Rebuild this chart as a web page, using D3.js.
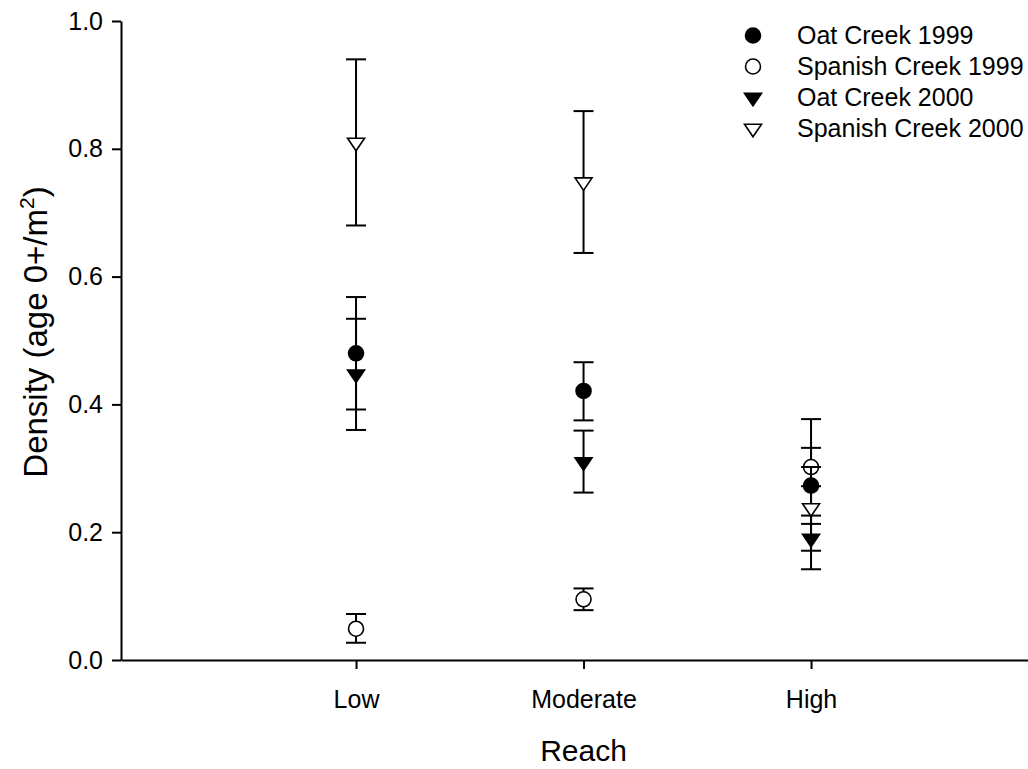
<!DOCTYPE html>
<html>
<head>
<meta charset="utf-8">
<script src="https://cdn.jsdelivr.net/npm/d3@7"></script>
<style>
  body { margin: 0; background: #fff; }
  text { font-family: "Liberation Sans", Arial, sans-serif; fill: #000; }
</style>
</head>
<body>
<div id="chart"></div>
<script>
// data
var reaches = ["Low", "Moderate", "High"];
var yTicks = [0, 0.2, 0.4, 0.6, 0.8, 1.0];

var oat1999 = [0.480, 0.421, 0.273];
var oat1999Lo = [0.392, 0.375, 0.171];
var oat1999Hi = [0.568, 0.466, 0.377];

var spanish1999 = [0.049, 0.095, 0.302];
var spanish1999Lo = [0.027, 0.078, 0.272];
var spanish1999Hi = [0.072, 0.112, 0.332];

var oat2000 = [0.447, 0.310, 0.190];
var oat2000Lo = [0.360, 0.262, 0.142];
var oat2000Hi = [0.534, 0.359, 0.226];

var spanish2000 = [0.810, 0.748, 0.238];
var spanish2000Lo = [0.680, 0.637, 0.213];
var spanish2000Hi = [0.940, 0.859, 0.302];

var seriesNames = ["Oat Creek 1999", "Spanish Creek 1999", "Oat Creek 2000", "Spanish Creek 2000"];

var series = [
  {name: seriesNames[0], vals: oat1999, lo: oat1999Lo, hi: oat1999Hi, shape: "circle", fill: "#000"},
  {name: seriesNames[1], vals: spanish1999, lo: spanish1999Lo, hi: spanish1999Hi, shape: "circle", fill: "#fff"},
  {name: seriesNames[2], vals: oat2000, lo: oat2000Lo, hi: oat2000Hi, shape: "tri", fill: "#000"},
  {name: seriesNames[3], vals: spanish2000, lo: spanish2000Lo, hi: spanish2000Hi, shape: "tri", fill: "#fff"}
];

var svgWidth = 1028;
var svgHeight = 769;

var svg = d3.select("#chart")
            .append("svg")
            .attr("width", svgWidth)
            .attr("height", svgHeight);

var xScale = d3.scalePoint()
               .domain(reaches)
               .range([121, 1028])
               .padding(0.9934)
               .align(0.52);

var yScale = d3.scaleLinear()
               .domain([0, 1])
               .range([660, 21]);

var xAxis = d3.axisBottom(xScale).tickSize(9).tickSizeOuter(0).tickPadding(21);
var yAxis = d3.axisLeft(yScale).tickValues(yTicks).tickFormat(d3.format(".1f"))
              .tickSize(9).tickSizeOuter(0).tickPadding(9);

var gx = svg.append("g")
   .attr("transform", "translate(0,660)")
   .call(xAxis);
var gy = svg.append("g")
   .attr("transform", "translate(121,0)")
   .call(yAxis);

[gx, gy].forEach(function(g){
  g.attr("font-size", null).attr("font-family", null);
  g.selectAll("path, line").attr("stroke", "#000").attr("stroke-width", 2);
  g.selectAll("text").style("font-size", "25px").attr("fill", "#000");
});

svg.append("text")
   .attr("x", 583.5)
   .attr("y", 761)
   .attr("text-anchor", "middle")
   .style("font-size", "30px")
   .text("Reach");

var ylab = svg.append("text")
   .attr("transform", "translate(47,332) rotate(-90)")
   .attr("text-anchor", "middle")
   .style("font-size", "33px");
ylab.append("tspan").text("Density (age 0+/m");
ylab.append("tspan").attr("dy", -13).style("font-size", "21px").text("2");
ylab.append("tspan").attr("dy", 13).text(")");

function triPath(){
  return "M-8.5,-4.2L8.5,-4.2L0,8.3Z";
}

function drawMarker(g, s, cx, cy){
  if (s.shape === "circle") {
    g.append("circle")
     .attr("cx", cx).attr("cy", cy).attr("r", 7.5)
     .attr("fill", s.fill).attr("stroke", "#000").attr("stroke-width", 1.6);
  } else {
    g.append("path")
     .attr("d", triPath())
     .attr("transform", "translate(" + cx + "," + cy + ")")
     .attr("fill", s.fill).attr("stroke", "#000").attr("stroke-width", 1.6)
     .attr("stroke-linejoin", "miter");
  }
}

var plot = svg.append("g");
var capHalf = 10;

series.forEach(function(s){
  var g = plot.append("g");
  reaches.forEach(function(r, i){
    var cx = xScale(r);
    g.append("line")
     .attr("x1", cx).attr("x2", cx)
     .attr("y1", yScale(s.lo[i])).attr("y2", yScale(s.hi[i]))
     .attr("stroke", "#000").attr("stroke-width", 2);
    [s.lo[i], s.hi[i]].forEach(function(v){
      g.append("line")
       .attr("x1", cx - capHalf).attr("x2", cx + capHalf)
       .attr("y1", yScale(v)).attr("y2", yScale(v))
       .attr("stroke", "#000").attr("stroke-width", 2);
    });
  });
  reaches.forEach(function(r, i){
    drawMarker(g, s, xScale(r), yScale(s.vals[i]));
  });
});

// legend
var legend = svg.append("g");
series.forEach(function(s, i){
  var ly = 35.5 + i * 31;
  drawMarker(legend, s, 753, ly);
  legend.append("text")
        .attr("x", 797)
        .attr("y", ly)
        .attr("dy", "0.35em")
        .style("font-size", "25px")
        .text(s.name);
});
</script>
</body>
</html>
